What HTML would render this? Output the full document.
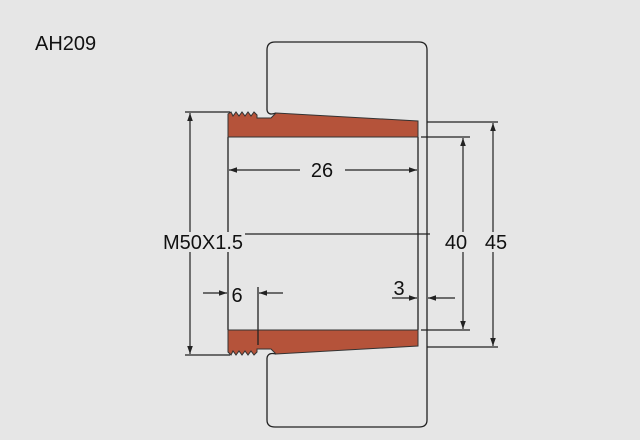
<!DOCTYPE html>
<html><head><style>body{margin:0;background:#e6e6e6}svg{display:block}text{font-family:"Liberation Sans",sans-serif;font-size:20px;fill:#111}</style></head><body>
<svg width="640" height="440" viewBox="0 0 640 440">
<defs><marker id="a" viewBox="0 0 10 10" refX="10" refY="5" markerWidth="10" markerHeight="8" orient="auto-start-reverse" markerUnits="userSpaceOnUse"><path d="M0,1.5L10,5L0,8.5z" fill="#222"/></marker></defs>
<rect width="640" height="440" fill="#e6e6e6"/>
<text x="35" y="50" font-size="22">AH209</text>
<g fill="none" stroke="#222" stroke-width="1.3">
<path d="M267,110 V50 Q267,42 275,42 H419 Q427,42 427,50 V122"/>
<path d="M267,358 V420 Q267,427 275,427 H419 Q427,427 427,420 V347"/>
<line x1="228" y1="137" x2="228" y2="330"/>
<line x1="418" y1="137" x2="418" y2="330"/>
<line x1="427" y1="122" x2="427" y2="347"/>
<line x1="228" y1="234" x2="430" y2="234"/>
<line x1="185" y1="112" x2="230" y2="112"/><line x1="185" y1="355" x2="230" y2="355"/>
<line x1="421" y1="137" x2="470" y2="137"/><line x1="421" y1="330" x2="470" y2="330"/>
<line x1="427" y1="122" x2="498" y2="122"/><line x1="427" y1="347" x2="498" y2="347"/>
<line x1="258" y1="287" x2="258" y2="345"/>
</g>
<g stroke="#222" stroke-width="1.2" fill="none">
<line x1="190" y1="113" x2="190" y2="354" marker-start="url(#a)" marker-end="url(#a)"/>
<line x1="229" y1="170" x2="302" y2="170" marker-start="url(#a)"/>
<line x1="345" y1="170" x2="417" y2="170" marker-end="url(#a)"/>
<line x1="463" y1="138" x2="463" y2="329" marker-start="url(#a)" marker-end="url(#a)"/>
<line x1="493" y1="123" x2="493" y2="346" marker-start="url(#a)" marker-end="url(#a)"/>
<line x1="203" y1="293" x2="227" y2="293" marker-end="url(#a)"/>
<line x1="283" y1="293" x2="259" y2="293" marker-end="url(#a)"/>
<line x1="392" y1="298" x2="417" y2="298" marker-end="url(#a)"/>
<line x1="455" y1="298" x2="428" y2="298" marker-end="url(#a)"/>
</g>
<path d="M267,110 Q268,116 276,113" fill="none" stroke="#222" stroke-width="1.3"/>
<path d="M267,358 Q268,352 276,354" fill="none" stroke="#222" stroke-width="1.3"/>
<path d="M228,137 V114 L231,112 233,116 236,112 239,116 242,112 245,116 248,112 251,116 254,112 257,115 V118 H271 L276,113 L418,121 V137 Z" fill="#b5533a" stroke="#333" stroke-width="1"/>
<path d="M228,330 V352 L231,355 233,351 236,355 239,351 242,355 245,351 248,355 251,351 254,355 257,352 V349 H271 L276,354 L418,346 V330 Z" fill="#b5533a" stroke="#333" stroke-width="1"/>
<line x1="258" y1="330" x2="258" y2="345" stroke="#222" stroke-width="1.3"/>
<rect x="300" y="160" width="45" height="20" fill="#e6e6e6"/>
<text x="322" y="177" text-anchor="middle">26</text>
<rect x="160" y="232" width="85" height="20" fill="#e6e6e6"/>
<text x="163" y="249">M50X1.5</text>
<rect x="443" y="232" width="26" height="20" fill="#e6e6e6"/>
<text x="456" y="249" text-anchor="middle">40</text>
<rect x="483" y="232" width="26" height="20" fill="#e6e6e6"/>
<text x="496" y="249" text-anchor="middle">45</text>
<text x="237" y="302" text-anchor="middle">6</text>
<text x="399" y="295" text-anchor="middle">3</text>
</svg>
</body></html>
